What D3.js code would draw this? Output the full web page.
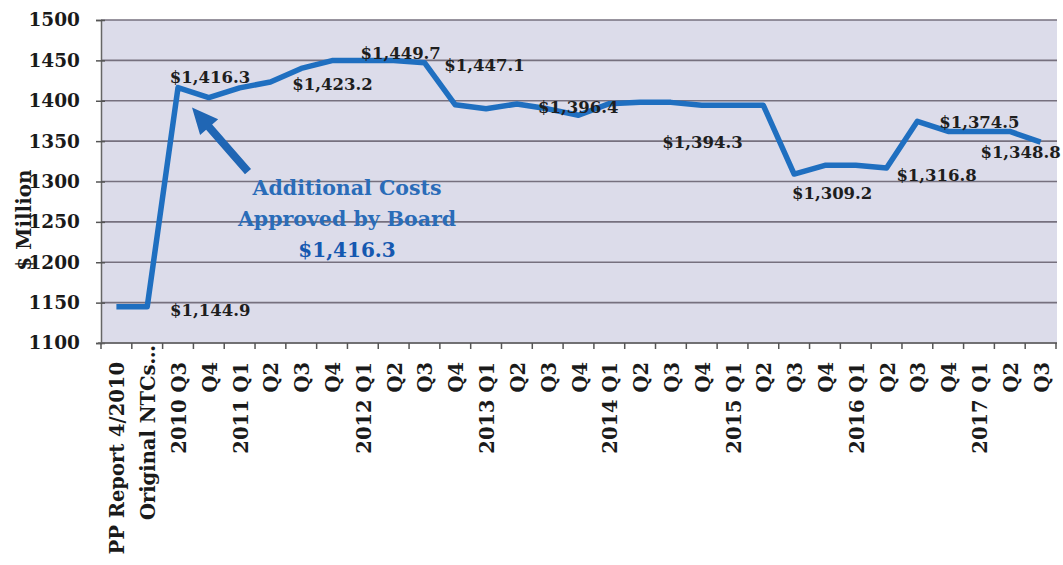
<!DOCTYPE html>
<html>
<head>
<meta charset="utf-8">
<script src="https://cdn.jsdelivr.net/npm/d3@7"></script>
<style>
  body { margin: 0; background: #fff; }
  svg { display: block; }
</style>
</head>
<body>
<div id="chart"></div>
<script>
// quarters along the bottom
const categories = ["PP Report 4/2010", "Original NTCs\u2026", "2010 Q3", "Q4",
    "2011 Q1", "Q2", "Q3", "Q4", "2012 Q1", "Q2", "Q3", "Q4",
    "2013 Q1", "Q2", "Q3", "Q4", "2014 Q1", "Q2", "Q3", "Q4",
    "2015 Q1", "Q2", "Q3", "Q4", "2016 Q1", "Q2", "Q3", "Q4",
    "2017 Q1", "Q2", "Q3"];

// $ million
const costs = [1144.9, 1144.9, 1416.3, 1404, 1416, 1423.2, 1440, 1449.7,
    1449.7, 1449.7, 1447.1, 1395, 1390, 1396, 1390, 1382,
    1396.4, 1398, 1398, 1394.3, 1394.3, 1394.3, 1309.2, 1320,
    1320, 1316.8, 1374.5, 1362, 1362, 1362, 1348.8];

const yTicks = [1100, 1150, 1200, 1250, 1300, 1350, 1400, 1450, 1500];

// data labels: which point, what text
const labelIndex = [2, 1, 5, 9, 10, 16, 20, 22, 25, 26, 30];
const labelText = ["$1,416.3", "$1,144.9", "$1,423.2", "$1,449.7", "$1,447.1",
    "$1,396.4", "$1,394.3", "$1,309.2", "$1,316.8", "$1,374.5", "$1,348.8"];

const noteLines = ["Additional Costs", "Approved by Board", "$1,416.3"];

// label offsets from their point (layout only)
const labelShift = [[32, -11], [63, 3], [62, 2], [7, -8], [60, 2],
    [-31, 3], [-30, 37], [38, 19], [50, 7], [62, 1], [-20, 10]];

const W = 1063, H = 565;
const plot = { left: 101, right: 1057, top: 20, bottom: 343 };
const serif = "'DejaVu Serif', 'Liberation Serif', serif";
const lineBlue = "#1f6fc0";

let svg = d3.select('#chart').append('svg')
    .attr('width', W)
    .attr('height', H);

let x = d3.scaleBand()
    .domain(d3.range(categories.length))
    .range([plot.left, plot.right - 1])
    .padding(0);

let y = d3.scaleLinear()
    .domain([1100, 1500])
    .range([plot.bottom, plot.top]);

let xc = i => x(i) + x.bandwidth() / 2;

// plot background
svg.append('rect')
    .attr('x', plot.left)
    .attr('y', plot.top)
    .attr('width', plot.right - plot.left)
    .attr('height', plot.bottom - plot.top)
    .attr('fill', '#dcdcea');

// gridlines
svg.selectAll('.grid')
    .data(yTicks)
    .enter().append('line')
    .attr('class', 'grid')
    .attr('x1', plot.left)
    .attr('x2', plot.right)
    .attr('y1', d => y(d))
    .attr('y2', d => y(d))
    .attr('stroke', '#76707e')
    .attr('stroke-width', 1.6);

// y axis
let yAxis = d3.axisLeft(y).tickValues(yTicks).tickFormat(d3.format('d')).tickSize(5).tickPadding(16);
let gy = svg.append('g')
    .attr('transform', `translate(${plot.left},0)`)
    .call(yAxis);
gy.select('.domain').attr('stroke', '#666').attr('stroke-width', 1.5);
gy.selectAll('.tick line').attr('stroke', '#555').attr('stroke-width', 1.5).attr('x2', 4).attr('x1', -5);
gy.selectAll('.tick text')
    .style('font-family', serif)
    .style('font-size', '18.5px')
    .style('font-weight', 'bold')
    .attr('fill', '#1a1a1a');

// x axis line and boundary ticks
svg.append('line')
    .attr('x1', plot.left - 3)
    .attr('x2', plot.right)
    .attr('y1', plot.bottom)
    .attr('y2', plot.bottom)
    .attr('stroke', '#666')
    .attr('stroke-width', 1.5);

let bounds = d3.range(categories.length).map(i => x(i)).concat([x(categories.length - 1) + x.bandwidth()]);
svg.selectAll('.xtick')
    .data(bounds)
    .enter().append('line')
    .attr('class', 'xtick')
    .attr('x1', d => d)
    .attr('x2', d => d)
    .attr('y1', plot.bottom)
    .attr('y2', plot.bottom + 6)
    .attr('stroke', '#555')
    .attr('stroke-width', 1.5);

// rotated category labels
svg.selectAll('.xlabel')
    .data(categories)
    .enter().append('text')
    .attr('class', 'xlabel')
    .attr('transform', (d, i) => `translate(${xc(i) + 1},${i === 1 ? 345 : 362}) rotate(-90)`)
    .attr('text-anchor', 'end')
    .attr('dy', '0.36em')
    .style('font-family', serif)
    .style('font-size', '19.5px')
    .style('font-weight', 'bold')
    .attr('fill', '#1a1a1a')
    .text(d => d);

// y axis title
svg.append('text')
    .attr('transform', 'translate(24,220) rotate(-90)')
    .attr('text-anchor', 'middle')
    .attr('dy', '0.36em')
    .style('font-family', serif)
    .style('font-size', '20px')
    .style('font-weight', 'bold')
    .attr('fill', '#1a1a1a')
    .text('$ Million');

// cost line
let line = d3.line()
    .x((d, i) => xc(i))
    .y(d => y(d));

svg.append('path')
    .datum(costs)
    .attr('d', line)
    .attr('fill', 'none')
    .attr('stroke', lineBlue)
    .attr('stroke-width', 5.5)
    .attr('stroke-linejoin', 'round');

// data labels
svg.selectAll('.dlabel')
    .data(labelIndex)
    .enter().append('text')
    .attr('class', 'dlabel')
    .attr('x', (d, k) => xc(d) + labelShift[k][0])
    .attr('y', (d, k) => y(costs[d]) + labelShift[k][1])
    .attr('dy', '0.36em')
    .attr('text-anchor', 'middle')
    .style('font-family', serif)
    .style('font-size', '16.5px')
    .style('font-weight', 'bold')
    .attr('fill', '#1e1e1e')
    .text((d, k) => labelText[k]);

// annotation arrow pointing at the approved cost
let tip = [xc(2) + 14, y(costs[2]) + 20];
let tail = [xc(2) + 70, y(costs[2]) + 84];
let ang = Math.atan2(tip[1] - tail[1], tip[0] - tail[0]);
let headLen = 26, headHalf = 12, shaft = 4;
let ux = Math.cos(ang), uy = Math.sin(ang);
let px = -uy, py = ux;
let base = [tip[0] - ux * headLen, tip[1] - uy * headLen];
let arrowPts = [
    [tail[0] + px * shaft, tail[1] + py * shaft],
    [base[0] + px * shaft, base[1] + py * shaft],
    [base[0] + px * headHalf, base[1] + py * headHalf],
    tip,
    [base[0] - px * headHalf, base[1] - py * headHalf],
    [base[0] - px * shaft, base[1] - py * shaft],
    [tail[0] - px * shaft, tail[1] - py * shaft]
];
svg.append('path')
    .attr('d', 'M' + arrowPts.map(p => p.join(',')).join('L') + 'Z')
    .attr('fill', '#2066b4');

// annotation text
let noteX = xc(7) + 15;
svg.selectAll('.note')
    .data(noteLines)
    .enter().append('text')
    .attr('class', 'note')
    .attr('x', noteX)
    .attr('y', (d, i) => y(1300) + 13 + i * 31)
    .attr('text-anchor', 'middle')
    .style('font-family', serif)
    .style('font-size', (d, i) => i === 2 ? '20px' : '20.5px')
    .style('font-weight', 'bold')
    .attr('fill', (d, i) => i === 2 ? '#1558b0' : '#2a6cb8')
    .text(d => d);
</script>
</body>
</html>
